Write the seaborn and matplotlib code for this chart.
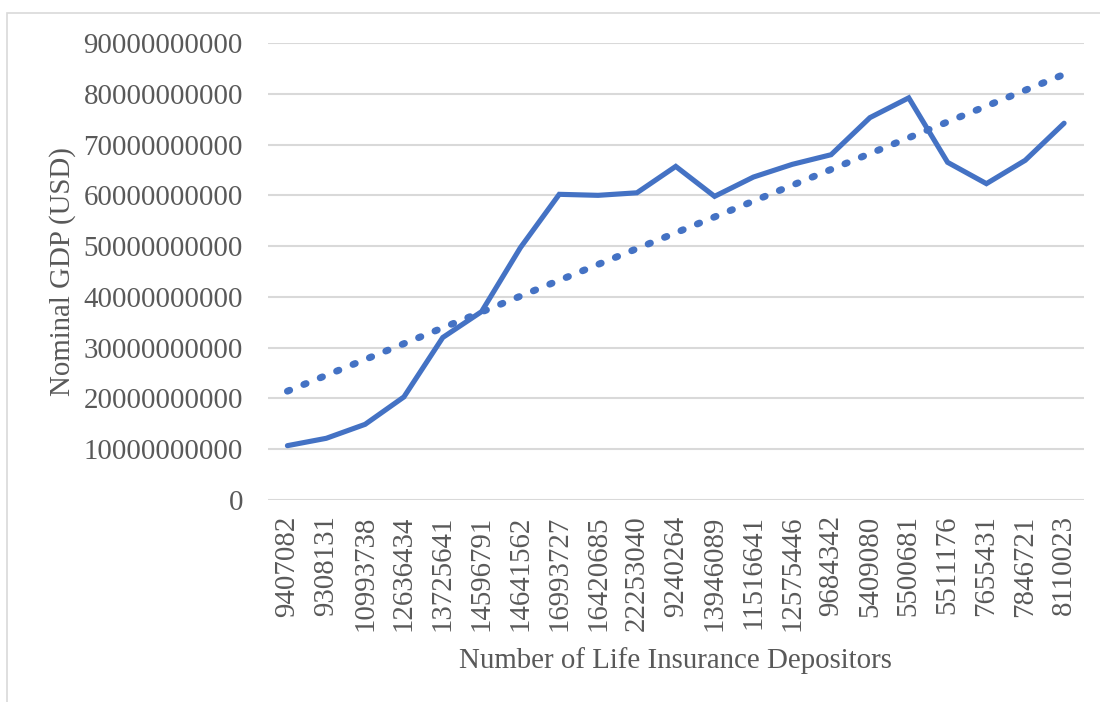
import numpy as np
import pandas as pd
import matplotlib
matplotlib.use("Agg")
import matplotlib.pyplot as plt
from matplotlib.patches import Rectangle
from matplotlib.ticker import FuncFormatter, MultipleLocator
import seaborn as sns

# Data
depositors = ["9407082", "9308131", "10993738", "12636434", "13725641", "14596791",
              "14641562", "16993727", "16420685", "22253040", "9240264", "13946089",
              "11516641", "12575446", "9684342", "5409080", "5500681", "5511176",
              "7655431", "7846721", "8110023"]
gdp = [10.7e9, 12.15e9, 14.9e9, 20.3e9, 32.0e9, 37.1e9, 49.7e9, 60.2e9, 60.0e9,
       60.5e9, 65.7e9, 59.8e9, 63.6e9, 66.1e9, 68.0e9, 75.3e9, 79.2e9, 66.5e9,
       62.3e9, 66.9e9, 74.2e9]

blue = "#4472C4"
text_grey = "#595959"
grid_grey = "#d9d9d9"

df = pd.DataFrame({"pos": np.arange(len(depositors)), "gdp": gdp})

# linear trendline (like Excel's)
slope, intercept = np.polyfit(df["pos"], df["gdp"], 1)
df["trend"] = intercept + slope * df["pos"]

sns.set_theme(style="white")
plt.rcParams["font.family"] = ["Liberation Serif", "DejaVu Serif"]

fig = plt.figure(figsize=(11, 7.02), dpi=100)
ax = fig.add_axes([268 / 1100, 1 - 500 / 702, 815.5 / 1100, 457 / 702])

# outer chart border
fig.patches.append(Rectangle((7 / 1100, -0.1), 1.2, 1.1 - 13 / 702,
                             transform=fig.transFigure, fill=False,
                             edgecolor=grid_grey, linewidth=1.2))

sns.lineplot(data=df, x="pos", y="trend", ax=ax, color=blue, linewidth=5.0,
             linestyle=(0, (0.35, 2.2)), dash_capstyle="round", zorder=3)

sns.lineplot(data=df, x="pos", y="gdp", ax=ax, color=blue, linewidth=3.7,
             zorder=4)
ax.lines[-1].set_solid_joinstyle("miter")

ax.set_xlim(-0.5, len(depositors) - 0.5)
ax.set_ylim(0, 90e9)
ax.yaxis.set_major_locator(MultipleLocator(10e9))
ax.yaxis.set_major_formatter(FuncFormatter(lambda v, p: f"{int(round(v))}"))
ax.set_xticks(df["pos"])
ax.set_xticklabels(depositors, rotation=90)

ax.grid(axis="y", color=grid_grey, linewidth=1.5)
ax.grid(axis="x", visible=False)
for s in ax.spines.values():
    s.set_visible(False)

ax.tick_params(axis="y", length=0, pad=18, labelsize=20.8, labelcolor=text_grey)
ax.tick_params(axis="x", length=0, pad=11, labelsize=20.8, labelcolor=text_grey)

ax.set_xlabel("Number of Life Insurance Depositors", fontsize=20.8, color=text_grey)
ax.set_ylabel("Nominal GDP (USD)", fontsize=20.8, color=text_grey)
ax.xaxis.set_label_coords(0.5, -0.322)
ax.yaxis.set_label_coords(-0.235, 0.5)

fig.savefig("out.png", dpi=100, facecolor="white")
